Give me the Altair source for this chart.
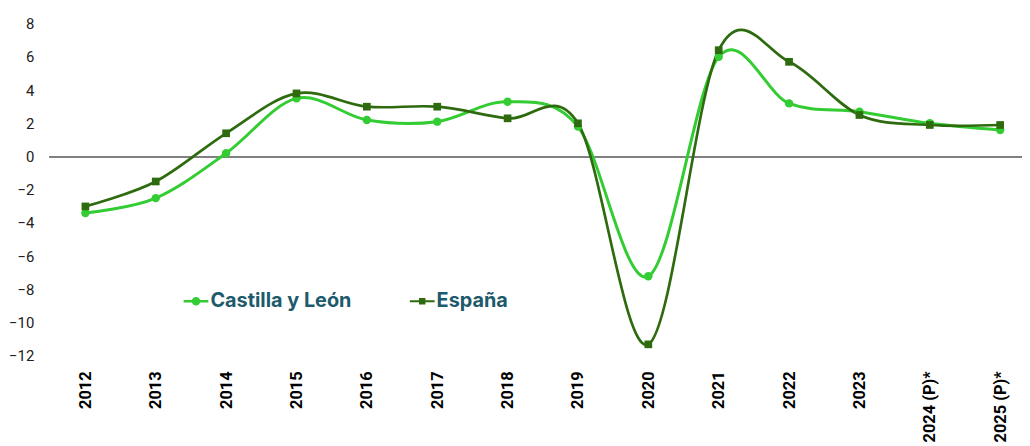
import altair as alt
import pandas as pd

years = ["2012", "2013", "2014", "2015", "2016", "2017", "2018", "2019",
         "2020", "2021", "2022", "2023", "2024 (P)*", "2025 (P)*"]
castilla = [-3.4, -2.5, 0.2, 3.5, 2.2, 2.1, 3.3, 1.8, -7.2, 6.0, 3.2, 2.7, 2.0, 1.6]
espana = [-3.0, -1.5, 1.4, 3.8, 3.0, 3.0, 2.3, 2.0, -11.3, 6.4, 5.7, 2.5, 1.9, 1.9]
series_names = ["Castilla y León", "España"]
series_colors = ["#33cc33", "#2e6b0e"]
y_ticks = [-12, -10, -8, -6, -4, -2, 0, 2, 4, 6, 8]

rows = []
for i, yr in enumerate(years):
    rows.append({"year": yr, "serie": series_names[0], "value": castilla[i], "order": i})
    rows.append({"year": yr, "serie": series_names[1], "value": espana[i], "order": i})
df = pd.DataFrame(rows)

FONT = "Roboto"

x_scale = alt.Scale(type="point", domain=years, range=[36, 958], padding=0)
x_axis = alt.Axis(title=None, labelAngle=270, labelFont=FONT, labelFontWeight="bold",
                  labelFontSize=16.5, labelColor="#000000", labelPadding=15,
                  domain=False, ticks=False, grid=False, labelOverlap=False)
y_scale = alt.Scale(domain=[-12, 8], nice=False, zero=False)
y_axis = alt.Axis(title=None, values=y_ticks, labelFont=FONT, labelFontSize=15,
                  labelColor="#222222", labelPadding=16, domain=False,
                  ticks=False, grid=False, labelOverlap=False, labelFlush=False)

x_enc = alt.X("year:N", sort=years, scale=x_scale, axis=x_axis)
y_enc = alt.Y("value:Q", scale=y_scale, axis=y_axis)
color_scale = alt.Scale(domain=series_names, range=series_colors)

base = alt.Chart(df)

zero_rule = base.mark_rule(color="#808080", strokeWidth=1.3).encode(
    y=alt.Y(datum=0, scale=y_scale, axis=y_axis))

layers = [zero_rule]
for name, col in zip(series_names, series_colors):
    layers.append(
        base.transform_filter(alt.datum.serie == name)
        .mark_line(interpolate="cardinal", strokeWidth=3 if col == "#33cc33" else 2.7, color=col)
        .encode(x=x_enc, y=y_enc, order="order:Q")
    )
for name, col in zip(series_names, series_colors):
    sub = base.transform_filter(alt.datum.serie == name)
    if name == series_names[0]:
        layers.append(sub.mark_circle(size=72, opacity=1, color=col).encode(x=x_enc, y=y_enc))
    else:
        layers.append(sub.mark_square(size=60, opacity=1, color=col).encode(x=x_enc, y=y_enc))

circle_path = "M-1,-0.1H1V0.1H-1Z M-0.34,0A0.34,0.34 0 1,1 0.34,0A0.34,0.34 0 1,1 -0.34,0Z"
square_path = "M-1,-0.08H1V0.08H-1Z M-0.26,-0.26H0.26V0.26H-0.26Z"

leg = alt.Legend(orient="none", legendX=135, legendY=267,
                 direction="horizontal", title=None,
                 labelFont="Inter", labelFontWeight="bold",
                 labelFontSize=20, labelColor="#1d5a6b",
                 symbolSize=625, columnPadding=58, labelOffset=2,
                 symbolStrokeWidth=0, symbolOpacity=1)

legend_layer = base.mark_point(filled=True, opacity=0).encode(
    x=x_enc, y=y_enc,
    color=alt.Color("serie:N", scale=color_scale, legend=leg),
    shape=alt.Shape("serie:N", scale=alt.Scale(domain=series_names,
                                               range=[circle_path, square_path]),
                    legend=leg),
)
layers.append(legend_layer)

chart = alt.layer(*layers).properties(
    width=980, height=335,
    autosize=alt.AutoSizeParams(type="none"),
    padding={"left": 42, "top": 14, "right": 0, "bottom": 89},
).configure_view(stroke=None)

chart.save("out.html", embed_options={"renderer": "svg", "actions": False})
